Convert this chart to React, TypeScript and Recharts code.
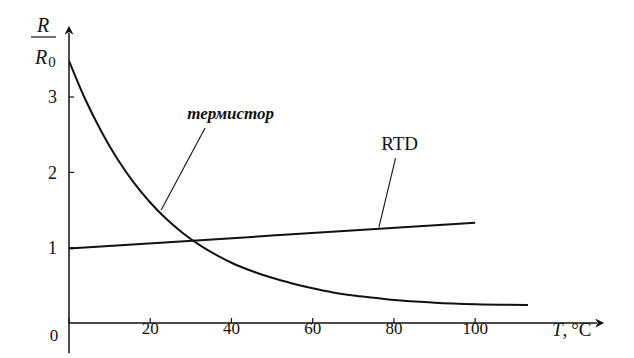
import React from 'react';
import { LineChart, Line, XAxis, YAxis, ReferenceLine, ReferenceDot } from 'recharts';

const THERM_T = [0, 4, 8, 12, 16, 20, 24, 28, 32, 36, 40, 45, 50, 55, 60, 65, 70, 75, 80, 90, 100, 113];
const THERM_R = [3.48, 2.97, 2.54, 2.17, 1.86, 1.6, 1.38, 1.195, 1.04, 0.91, 0.8, 0.69, 0.6, 0.525, 0.46, 0.405, 0.365, 0.335, 0.305, 0.27, 0.25, 0.24];
const RTD_T = [0, 50, 100];
const RTD_R = [0.99, 1.16, 1.33];
const X_TICKS = [0, 20, 40, 60, 80, 100];
const Y_TICKS = [1, 2, 3];
const THERM_LABEL = 'термистор';
const RTD_LABEL = 'RTD';
const THERM_LEADER = [{ x: 22.7, y: 1.5 }, { x: 33.5, y: 2.59 }];
const RTD_LEADER = [{ x: 76.3, y: 1.27 }, { x: 80.4, y: 2.19 }];
const THERM_LABEL_AT = { x: 39.8, y: 2.79 };
const RTD_LABEL_AT = { x: 81.4, y: 2.39 };

const thermData = THERM_T.map((t, i) => ({ t, r: THERM_R[i] }));
const rtdData = RTD_T.map((t, i) => ({ t, r: RTD_R[i] }));

const FONT = "'Liberation Serif', 'Times New Roman', 'DejaVu Serif', serif";

const XTick = (props: any) => {
  const { x, y, payload } = props;
  const zero = payload.value === 0;
  return (
    <text x={zero ? x - 15 : x} y={zero ? y + 7 : y} dy="0.71em" textAnchor="middle" style={{ fontFamily: FONT }} fontSize={17} fill="#111">
      {payload.value}
    </text>
  );
};

const YTick = (props: any) => {
  const { x, y, payload } = props;
  return (
    <text x={x} y={y} dy="0.35em" textAnchor="end" style={{ fontFamily: FONT }} fontSize={18} fill="#111">
      {payload.value}
    </text>
  );
};

const YLabel = (props: any) => {
  const vb = props.viewBox || {};
  const cx = vb.x + vb.width - 26;
  const top = vb.y;
  return (
    <g style={{ fontFamily: FONT }} fill="#111">
      <text x={cx} y={top - 1} textAnchor="middle" fontSize={20} fontStyle="italic">R</text>
      <line x1={cx - 12} x2={cx + 13} y1={top + 4} y2={top + 4} stroke="#111" strokeWidth={1.2} />
      <text x={cx - 2} y={top + 31} textAnchor="middle" fontSize={20} fontStyle="italic">R</text>
      <text x={cx + 9} y={top + 34} textAnchor="middle" fontSize={15}>0</text>
    </g>
  );
};

const XLabel = (props: any) => {
  const vb = props.viewBox || {};
  const x = vb.x + vb.width - 45;
  return (
    <text x={x} y={vb.y + 13} style={{ fontFamily: FONT }} fontSize={19} fill="#111">
      <tspan fontStyle="italic">T</tspan>
      <tspan>,{'\u2009'}°C</tspan>
    </text>
  );
};

const textShape = (value: string, italic: boolean, size: number, weight: number) => (p: any) => (
  <text x={p.cx} y={p.cy} dy="0.35em" textAnchor="middle" style={{ fontFamily: FONT }} fontSize={size} fontStyle={italic ? 'italic' : 'normal'} fontWeight={weight} fill="#111">
    {value}
  </text>
);

function XLabelWrap(props: any) {
  return <XLabel {...props} />;
}

function YLabelWrap(props: any) {
  return <YLabel {...props} />;
}

export default function App() {
  return (
    <div style={{ position: 'absolute', left: 0, top: 0, background: '#fff' }}>
      <svg width={0} height={0} style={{ position: 'absolute' }}>
        <defs>
          <marker id="arrowHead" viewBox="0 0 10 10" refX="2" refY="5" markerWidth="12" markerHeight="9" markerUnits="userSpaceOnUse" orient="auto-start-reverse">
            <path d="M0,0 L10,5 L0,10 L3,5 z" fill="#111" />
          </marker>
        </defs>
      </svg>
      <LineChart width={634} height={358} margin={{ top: 33, right: 37, bottom: 0, left: 9 }}>
        <XAxis
          dataKey="t"
          type="number"
          domain={[0, 130]}
          ticks={X_TICKS}
          allowDataOverflow
          height={35}
          tickSize={-5}
          tickMargin={4}
          tick={<XTick />}
          tickLine={{ stroke: '#111', strokeWidth: 1.2 }}
          axisLine={{ stroke: '#111', strokeWidth: 1.5, markerEnd: 'url(#arrowHead)' }}
          label={<XLabelWrap />}
        />
        <YAxis
          type="number"
          domain={[0, 3.85]}
          ticks={Y_TICKS}
          allowDataOverflow
          width={60}
          tickSize={-5}
          tickMargin={17}
          tick={<YTick />}
          tickLine={{ stroke: '#111', strokeWidth: 1.2 }}
          axisLine={{ stroke: '#111', strokeWidth: 1.5, markerStart: 'url(#arrowHead)' }}
          label={<YLabelWrap />}
        />
        <ReferenceLine segment={[{ x: 0, y: -0.4 }, { x: 0, y: 0 }]} ifOverflow="visible" stroke="#111" strokeWidth={1.5} />
        <ReferenceLine segment={THERM_LEADER} ifOverflow="visible" stroke="#111" strokeWidth={1.1} />
        <ReferenceLine segment={RTD_LEADER} ifOverflow="visible" stroke="#111" strokeWidth={1.1} />
        <Line data={thermData} dataKey="r" type="monotone" stroke="#111" strokeWidth={2} dot={false} isAnimationActive={false} />
        <Line data={rtdData} dataKey="r" type="linear" stroke="#111" strokeWidth={2} dot={false} isAnimationActive={false} />
        <ReferenceDot x={THERM_LABEL_AT.x} y={THERM_LABEL_AT.y} r={0} ifOverflow="visible" shape={textShape(THERM_LABEL, true, 17, 700)} />
        <ReferenceDot x={RTD_LABEL_AT.x} y={RTD_LABEL_AT.y} r={0} ifOverflow="visible" shape={textShape(RTD_LABEL, false, 19, 400)} />
      </LineChart>
    </div>
  );
}
